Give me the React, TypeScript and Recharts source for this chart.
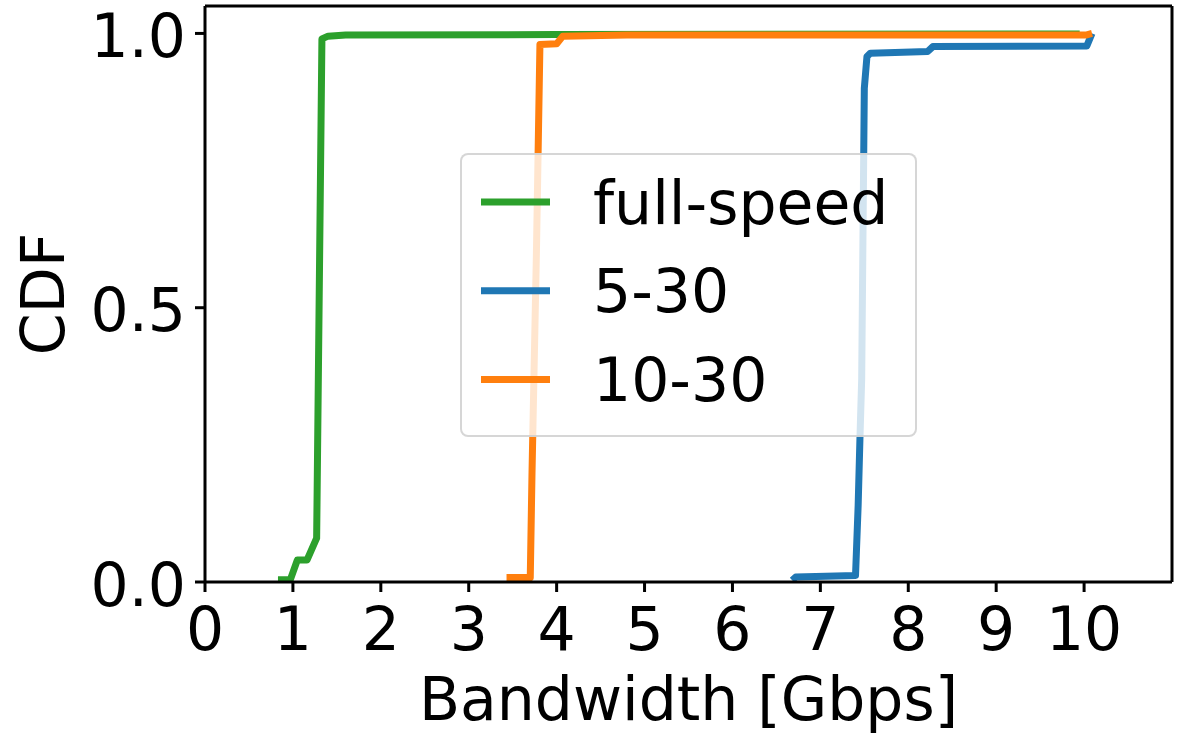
import { LineChart, Line, XAxis, YAxis, Legend, ReferenceLine } from 'recharts';

const FONT = '"DejaVu Sans", sans-serif';

const xTicks = [0, 1, 2, 3, 4, 5, 6, 7, 8, 9, 10];
const yTicks = [0, 0.5, 1.0];
const xMax = 11;
const yMax = 1.05;

// full-speed
const fullSpeedX = [0.83, 0.97, 1.05, 1.16, 1.27, 1.33, 1.4, 1.6, 4.0, 9.95];
const fullSpeedY = [0.004, 0.004, 0.04, 0.04, 0.08, 0.99, 0.995, 0.997, 0.998, 0.999];

// 5-30
const limit5X = [6.68, 6.72, 7.4, 7.43, 7.45, 7.47, 7.5, 7.53, 7.57, 8.22, 8.28, 10.03, 10.09];
const limit5Y = [0.003, 0.009, 0.012, 0.14, 0.26, 0.37, 0.9, 0.958, 0.964, 0.967, 0.976, 0.977, 1.0];

// 10-30
const limit10X = [3.43, 3.7, 3.72, 3.77, 3.81, 4.0, 4.07, 4.8, 10.02, 10.09];
const limit10Y = [0.008, 0.008, 0.2, 0.6, 0.98, 0.981, 0.995, 0.997, 0.997, 1.0];

const toPoints = (xs: number[], ys: number[]) => xs.map((x, i) => ({ x, y: ys[i] }));

const series = [
  { name: 'full-speed', color: '#2ca02c', data: toPoints(fullSpeedX, fullSpeedY) },
  { name: '5-30', color: '#1f77b4', data: toPoints(limit5X, limit5Y) },
  { name: '10-30', color: '#ff7f0e', data: toPoints(limit10X, limit10Y) },
];

const XTick = (props: any) => {
  const { x, y, payload } = props;
  return (
    <text x={x} y={y + 58} textAnchor="middle" fontSize={60} fontFamily={FONT} fill="#000">
      {payload.value}
    </text>
  );
};

const YTick = (props: any) => {
  const { x, y, payload } = props;
  return (
    <text x={x - 9} y={y + 23.5} textAnchor="end" fontSize={60} fontFamily={FONT} fill="#000">
      {Number(payload.value).toFixed(1)}
    </text>
  );
};

const xTitle = () => (
  <text x={688.5} y={720} textAnchor="middle" fontSize={60} fontFamily={FONT} fill="#000">
    Bandwidth [Gbps]
  </text>
);

const yTitle = () => (
  <text x={64} y={294} transform="rotate(-90 64 294)" textAnchor="middle" fontSize={60} fontFamily={FONT} fill="#000">
    CDF
  </text>
);

function CdfLegend() {
  return (
    <div
      style={{
        position: 'relative',
        width: 457,
        height: 284,
        boxSizing: 'border-box',
        border: '2px solid rgba(204,204,204,0.8)',
        borderRadius: 8,
        background: 'rgba(255,255,255,0.8)',
      }}
    >
      <svg width={457} height={284} style={{ position: 'absolute', left: -2, top: -2, overflow: 'visible' }}>
        {series.map((s, i) => (
          <g key={s.name}>
            <line x1={21} x2={90} y1={49 + i * 88.7} y2={49 + i * 88.7} stroke={s.color} strokeWidth={7} />
            <text x={133} y={70.5 + i * 88.5} fontSize={60} fontFamily={FONT} fill="#000">
              {s.name}
            </text>
          </g>
        ))}
      </svg>
    </div>
  );
}

export default function App() {
  return (
    <div style={{ position: 'absolute', left: 0, top: 0, background: '#fff' }}>
      <LineChart width={1181} height={733} margin={{ top: 6, right: 9, left: 0, bottom: 0 }}>
        <XAxis
          dataKey="x"
          type="number"
          domain={[0, xMax]}
          ticks={xTicks}
          interval={0}
          allowDataOverflow
          height={151}
          tickSize={10}
          tickMargin={0}
          tick={<XTick />}
          tickLine={{ stroke: '#000', strokeWidth: 3 }}
          axisLine={{ stroke: '#000', strokeWidth: 3 }}
          label={xTitle}
        />
        <YAxis
          type="number"
          domain={[0, yMax]}
          ticks={yTicks}
          interval={0}
          allowDataOverflow
          width={205}
          tickSize={10}
          tickMargin={0}
          tick={<YTick />}
          tickLine={{ stroke: '#000', strokeWidth: 3 }}
          axisLine={{ stroke: '#000', strokeWidth: 3 }}
          label={yTitle}
        />
        {series.map((s) => (
          <Line
            key={s.name}
            data={s.data}
            dataKey="y"
            name={s.name}
            type="linear"
            stroke={s.color}
            strokeWidth={7}
            strokeLinejoin="round"
            dot={false}
            activeDot={false}
            isAnimationActive={false}
          />
        ))}
        {/* top and right spines */}
        <ReferenceLine y={yMax} stroke="#000" strokeWidth={3} />
        <ReferenceLine x={xMax} stroke="#000" strokeWidth={3} />
        <Legend
          layout="vertical"
          align="center"
          verticalAlign="middle"
          wrapperStyle={{ left: 460, top: 153, width: 457, height: 284 }}
          content={() => <CdfLegend />}
        />
      </LineChart>
    </div>
  );
}
